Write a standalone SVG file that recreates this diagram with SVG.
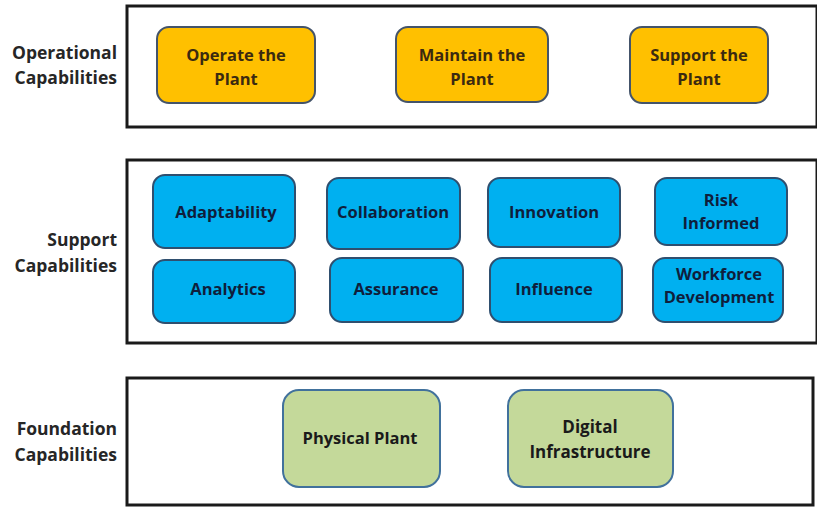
<svg xmlns="http://www.w3.org/2000/svg" width="817" height="508" viewBox="0 0 817 508">
<style>
.panel{fill:#fff;stroke:#1a1a1a;stroke-width:3}
.lbl{font-family:"Open Sans","Liberation Sans",sans-serif;font-weight:bold;font-size:17.5px;fill:#262626;text-anchor:end}
.or{fill:#FFC000;stroke:#44546A;stroke-width:2}
.bl{fill:#00B0F0;stroke:#2F4F6F;stroke-width:2}
.gr{fill:#C4D99A;stroke:#41719C;stroke-width:2}
.t{font-family:"Open Sans","Liberation Sans",sans-serif;font-weight:bold;font-size:16.5px;text-anchor:middle}
.to{fill:#3B2A10}
.tb{fill:#0F1E3C}
.tg{fill:#1a1a1a}
</style>
<g id="panels">
<rect class="panel" x="127" y="6" width="690" height="121"/>
<rect class="panel" x="127" y="160" width="690" height="183"/>
<rect class="panel" x="127" y="378" width="686" height="127"/>
</g>
<g id="labels">
<text class="lbl" x="117" y="59">Operational</text>
<text class="lbl" x="117" y="84">Capabilities</text>
<text class="lbl" x="117" y="246">Support</text>
<text class="lbl" x="117" y="272">Capabilities</text>
<text class="lbl" x="117" y="435">Foundation</text>
<text class="lbl" x="117" y="461">Capabilities</text>
</g>
<g id="operate"><rect class="or" x="157" y="27" width="158" height="76" rx="12"/><text class="t to" x="236" y="61">Operate the</text><text class="t to" x="236" y="85">Plant</text></g>
<g id="maintain"><rect class="or" x="396" y="27" width="152" height="75" rx="12"/><text class="t to" x="472" y="61">Maintain the</text><text class="t to" x="472" y="85">Plant</text></g>
<g id="support"><rect class="or" x="630" y="27" width="138" height="76" rx="12"/><text class="t to" x="699" y="61">Support the</text><text class="t to" x="699" y="85">Plant</text></g>
<g id="adaptability"><rect class="bl" x="153" y="175" width="142" height="73" rx="12"/><text class="t tb" x="226" y="218">Adaptability</text></g>
<g id="collaboration"><rect class="bl" x="327" y="178" width="133" height="71" rx="12"/><text class="t tb" x="393" y="218">Collaboration</text></g>
<g id="innovation"><rect class="bl" x="488" y="178" width="132" height="69" rx="12"/><text class="t tb" x="554" y="218">Innovation</text></g>
<g id="risk"><rect class="bl" x="655" y="178" width="132" height="67" rx="12"/><text class="t tb" x="721" y="206">Risk</text><text class="t tb" x="721" y="229">Informed</text></g>
<g id="analytics"><rect class="bl" x="153" y="260" width="142" height="63" rx="12"/><text class="t tb" x="228" y="295">Analytics</text></g>
<g id="assurance"><rect class="bl" x="330" y="258" width="133" height="64" rx="12"/><text class="t tb" x="396" y="295">Assurance</text></g>
<g id="influence"><rect class="bl" x="490" y="258" width="132" height="64" rx="12"/><text class="t tb" x="554" y="295">Influence</text></g>
<g id="workforce"><rect class="bl" x="653" y="258" width="130" height="64" rx="12"/><text class="t tb" x="719" y="280">Workforce</text><text class="t tb" x="719" y="303">Development</text></g>
<g id="physical"><rect class="gr" x="283" y="390" width="157" height="97" rx="16"/><text class="t tg" x="360" y="444">Physical Plant</text></g>
<g id="digital"><rect class="gr" x="508" y="390" width="165" height="97" rx="16"/><text class="t tg" x="590" y="433" style="font-size:17px">Digital</text><text class="t tg" x="590" y="458" style="font-size:17px">Infrastructure</text></g>
<g id="connectors"></g>
</svg>
